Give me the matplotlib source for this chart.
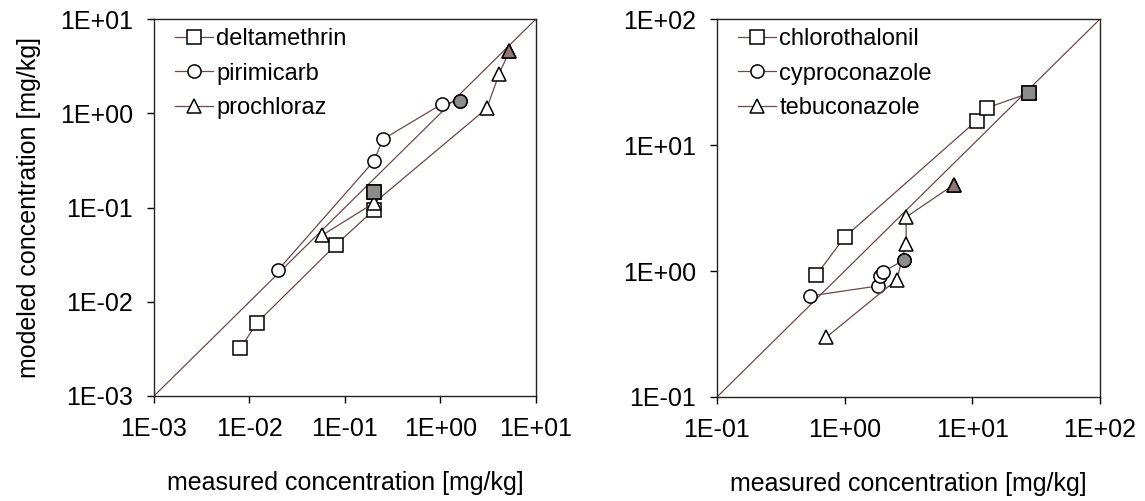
import numpy as np
import matplotlib
matplotlib.use("Agg")
import matplotlib.pyplot as plt
from matplotlib.ticker import FixedLocator, FuncFormatter, NullLocator

plt.rcParams['font.family'] = ['Liberation Sans', 'DejaVu Sans']

# ---- left panel data (measured, modeled) ----
left_names = ["deltamethrin", "pirimicarb", "prochloraz"]
delta_meas = [0.008, 0.012, 0.080, 0.20, 0.20]
delta_mod = [0.0032, 0.0060, 0.040, 0.094, 0.146]
pirim_meas = [0.020, 0.20, 0.25, 1.03, 1.61]
pirim_mod = [0.0218, 0.31, 0.53, 1.25, 1.36]
proch_meas = [0.058, 0.20, 3.06, 4.12, 5.25]
proch_mod = [0.051, 0.111, 1.13, 2.63, 4.54]

# ---- right panel data ----
right_names = ["chlorothalonil", "cyproconazole", "tebuconazole"]
chlor_meas = [0.60, 1.00, 10.8, 13.0, 28.0]
chlor_mod = [0.93, 1.86, 15.6, 19.7, 25.9]
cypro_meas = [0.534, 1.81, 1.88, 2.00, 2.92]
cypro_mod = [0.634, 0.76, 0.91, 0.99, 1.22]
tebu_meas = [0.718, 2.56, 3.03, 3.03, 7.12]
tebu_mod = [0.298, 0.853, 1.65, 2.68, 4.82]

left_ticks = [1e-3, 1e-2, 1e-1, 1e0, 1e1]
right_ticks = [1e-1, 1e0, 1e1, 1e2]

xlabel = "measured concentration [mg/kg]"
ylabel = "modeled concentration [mg/kg]"

LINE_C = "#6b4a4a"
FILL_C = {"s": "#8c8c8c", "o": "#8c8c8c", "^": "#8f7676"}
MARKERS = ["s", "o", "^"]

fig = plt.figure(figsize=(11.45, 5.01), dpi=100)
axL = fig.add_axes([0.1345, 0.2096, 0.3336, 0.7524])
axR = fig.add_axes([0.6262, 0.2076, 0.3345, 0.7544])

fmt = FuncFormatter(lambda v, p: "1E{:+03d}".format(int(round(np.log10(v)))))


def setup(ax, ticks):
    ax.set_xscale("log")
    ax.set_yscale("log")
    ax.set_xlim(ticks[0], ticks[-1])
    ax.set_ylim(ticks[0], ticks[-1])
    for axis in (ax.xaxis, ax.yaxis):
        axis.set_major_locator(FixedLocator(ticks))
        axis.set_minor_locator(NullLocator())
        axis.set_major_formatter(fmt)
    ax.tick_params(axis="both", direction="out", length=5, width=1,
                   labelsize=18, pad=10, top=False, right=False)
    for s in ax.spines.values():
        s.set_linewidth(1.0)
        s.set_color("#222222")
    ax.plot([ticks[0], ticks[-1]], [ticks[0], ticks[-1]], color=LINE_C,
            lw=0.9, zorder=1)


def series(ax, xs, ys, marker, name):
    ax.plot(xs, ys, color=LINE_C, lw=0.9, marker=marker, ms=9.5,
            mfc="white", mec="black", mew=1.1, label=name, zorder=3)
    ax.plot(xs[-1:], ys[-1:], linestyle="none", marker=marker, ms=9.5,
            mfc=FILL_C[marker], mec="black", mew=1.1, zorder=4)


setup(axL, left_ticks)
setup(axR, right_ticks)

for (xs, ys), m, n in zip([(delta_meas, delta_mod), (pirim_meas, pirim_mod),
                           (proch_meas, proch_mod)], MARKERS, left_names):
    series(axL, xs, ys, m, n)
for (xs, ys), m, n in zip([(chlor_meas, chlor_mod), (cypro_meas, cypro_mod),
                           (tebu_meas, tebu_mod)], MARKERS, right_names):
    series(axR, xs, ys, m, n)

axL.set_xlabel(xlabel, fontsize=18, labelpad=22)
axR.set_xlabel(xlabel, fontsize=18, labelpad=22)
axL.set_ylabel(ylabel, fontsize=18, labelpad=14)

for ax in (axL, axR):
    ax.legend(loc="upper left", frameon=False, fontsize=17,
              handlelength=1.6, handletextpad=0.15, labelspacing=0.52,
              borderaxespad=0.0, bbox_to_anchor=(0.03, 1.0))

fig.savefig("out.png", dpi=100)
